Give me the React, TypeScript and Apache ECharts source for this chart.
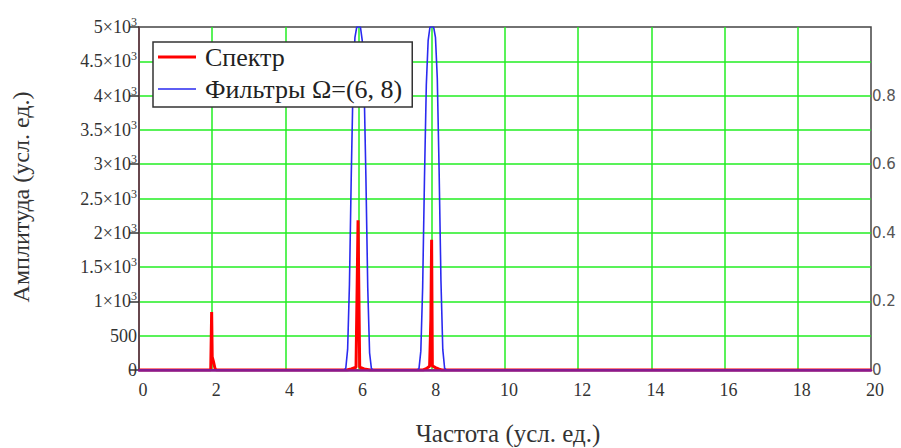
import React, { useEffect, useRef } from "react";
import * as echarts from "echarts";

// Amplitude spectrum (frequency, amplitude) — sparse samples around the three lines
const specFreq = [
  0, 1.96, 1.985, 2.0, 2.04, 2.08, 2.12,
  5.68, 5.8, 5.93, 5.985, 6.03, 6.15, 6.32,
  7.76, 7.85, 7.94, 7.975, 7.995, 8.015, 8.1, 8.2, 8.27,
  20,
];
const specAmp = [
  0, 0, 845, 190, 110, 15, 0,
  0, 15, 40, 2182, 40, 15, 0,
  0, 20, 55, 750, 1900, 60, 35, 12, 0,
  0,
];

// Band-pass filter gains (right axis, 0..1) centred at Ω = 6 and Ω = 8
const filtFreq = [
  0,
  5.6, 5.65, 5.7, 5.75, 5.8, 5.85, 5.9, 5.95, 6.0, 6.05, 6.1, 6.15, 6.2, 6.25, 6.3, 6.35, 6.4,
  7.6, 7.65, 7.7, 7.75, 7.8, 7.85, 7.9, 7.95, 8.0, 8.05, 8.1, 8.15, 8.2, 8.25, 8.3, 8.35, 8.4,
  20,
];
const filtGain = [
  0,
  0, 0.005, 0.06, 0.25, 0.57, 0.84, 0.97, 1, 1, 1, 0.96, 0.83, 0.56, 0.24, 0.05, 0.004, 0,
  0, 0.004, 0.055, 0.24, 0.56, 0.83, 0.96, 1, 1, 1, 0.97, 0.85, 0.58, 0.26, 0.06, 0.005, 0,
  0,
];

const specName = "Спектр";
const filtName = "Фильтры Ω=(6, 8)";
const xTitle = "Частота (усл. ед.)";
const yTitle = "Амплитуда (усл. ед.)";

const SERIF = "Liberation Serif";
const SANS = "DejaVu Sans";

const RED = "#ff0000";
const BLUE = "#2a2af0";

// legend swatches: a 38×14 box holding a thick (red) or thin (blue) stroke
const thickSwatch = "path://M0,0H38V0.01H0Z M0,13.99H38V14H0Z M0,5.5H38V8.5H0Z";
const thinSwatch = "path://M0,0H38V0.01H0Z M0,13.99H38V14H0Z M0,6.2H38V7.8H0Z";

function leftLabel(v: number): string {
  if (v === 0) return "0";
  if (v === 500) return "500";
  return `${v / 1000}×10{sup|3}`;
}

export default function App() {
  const ref = useRef<HTMLDivElement>(null);

  useEffect(() => {
    if (!ref.current) return;
    const chart = echarts.init(ref.current, undefined, { renderer: "svg" });

    chart.setOption({
      animation: false,
      backgroundColor: "#ffffff",
      grid: {
        left: 139,
        right: 30,
        top: 27,
        bottom: 78,
        show: true,
        borderColor: "#444",
        borderWidth: 1.5,
        backgroundColor: "transparent",
      },
      legend: {
        orient: "vertical",
        left: 153,
        top: 42,
        padding: [2, 10, 5, 5],
        itemGap: 6,
        itemWidth: 38,
        itemHeight: 14,
        backgroundColor: "#ffffff",
        borderColor: "#333",
        borderWidth: 1.5,
        selectedMode: false,
        z: 10,
        textStyle: { fontFamily: SERIF, fontSize: 26, color: "#222", padding: [0, 0, 0, 4] },
        data: [
          { name: specName, icon: thickSwatch, itemStyle: { color: RED } },
          { name: filtName, icon: thinSwatch, itemStyle: { color: BLUE } },
        ],
      },
      xAxis: [
        {
          type: "value",
          min: 0,
          max: 20,
          interval: 2,
          axisLine: { show: false },
          axisTick: { show: false },
          axisLabel: {
            fontFamily: SERIF,
            fontSize: 18,
            color: "#333",
            margin: 11,
            padding: [0, 0, 0, 8],
          },
          splitLine: {
            show: true,
            showMinLine: false,
            showMaxLine: false,
            lineStyle: { color: "#22ee22", width: 1.5 },
          },
        },
        {
          // overlay for the bottom axis line, drawn above the traces
          type: "value",
          min: 0,
          max: 20,
          position: "bottom",
          z: 5,
          axisLine: { show: true, lineStyle: { color: "#8a1a8c", width: 2.5 } },
          axisTick: { show: false },
          axisLabel: { show: false },
          splitLine: { show: false },
        },
      ],
      yAxis: [
        {
          type: "value",
          min: 0,
          max: 5000,
          interval: 500,
          position: "left",
          axisLine: { show: true, lineStyle: { color: "#ee4466", width: 1.5 } },
          axisTick: { show: false },
          axisLabel: {
            fontFamily: SERIF,
            fontSize: 18,
            color: "#333",
            margin: 2,
            formatter: leftLabel,
            rich: {
              sup: { fontFamily: SERIF, fontSize: 12, color: "#333", padding: [0, 0, 10, 0] },
            },
          },
          splitLine: {
            show: true,
            showMinLine: false,
            showMaxLine: false,
            lineStyle: { color: "#22ee22", width: 1.5 },
          },
        },
        {
          type: "value",
          min: 0,
          max: 1,
          interval: 0.2,
          position: "right",
          axisLine: { show: true, lineStyle: { color: "#444", width: 1.5 } },
          axisTick: { show: true, inside: true, length: 9, lineStyle: { color: "#333", width: 1.5 } },
          axisLabel: {
            fontFamily: SANS,
            fontSize: 15,
            color: "#555",
            margin: 1,
            formatter: (v: number) => (v === 0 ? "0" : v >= 1 ? "" : v.toFixed(1)),
          },
          splitLine: { show: false },
        },
      ],
      series: [
        {
          name: specName,
          type: "line",
          xAxisIndex: 0,
          yAxisIndex: 0,
          symbol: "none",
          lineStyle: { color: RED, width: 3 },
          itemStyle: { color: RED },
          data: specFreq.map((f, i) => [f, specAmp[i]]),
        },
        {
          name: filtName,
          type: "line",
          xAxisIndex: 0,
          yAxisIndex: 1,
          symbol: "none",
          lineStyle: { color: BLUE, width: 1.6 },
          itemStyle: { color: BLUE },
          data: filtFreq.map((f, i) => [f, filtGain[i]]),
        },
      ],
      graphic: [
        {
          type: "text",
          x: 21,
          y: 197,
          rotation: Math.PI / 2,
          style: {
            text: yTitle,
            fontFamily: SERIF,
            fontSize: 24,
            fill: "#333",
            align: "center",
            verticalAlign: "middle",
          },
        },
        {
          type: "text",
          x: 508,
          y: 433,
          style: {
            text: xTitle,
            fontFamily: SERIF,
            fontSize: 25,
            fill: "#333",
            align: "center",
            verticalAlign: "middle",
          },
        },
      ],
    });

    return () => chart.dispose();
  }, []);

  return (
    <div
      ref={ref}
      style={{ position: "fixed", left: 0, top: 0, width: 901, height: 448 }}
    />
  );
}
